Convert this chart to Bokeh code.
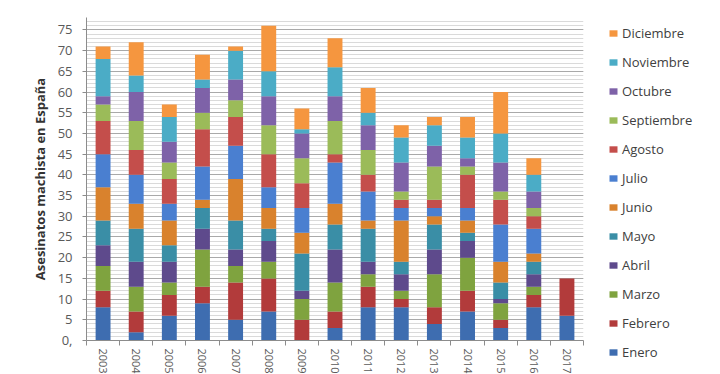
from bokeh.plotting import figure
from bokeh.models import (ColumnDataSource, FixedTicker, SingleIntervalTicker,
                          Legend, LegendItem, Range1d)
from bokeh.embed import file_html
from bokeh.resources import INLINE

years = ["2003", "2004", "2005", "2006", "2007", "2008", "2009", "2010",
         "2011", "2012", "2013", "2014", "2015", "2016", "2017"]
months = ["Enero", "Febrero", "Marzo", "Abril", "Mayo", "Junio", "Julio",
          "Agosto", "Septiembre", "Octubre", "Noviembre", "Diciembre"]

enero      = [8, 2, 6, 9, 5, 7, 0, 3, 8, 8, 4, 7, 3, 8, 6]
febrero    = [4, 5, 5, 4, 9, 8, 5, 4, 5, 2, 4, 5, 2, 3, 9]
marzo      = [6, 6, 3, 9, 4, 4, 5, 7, 3, 2, 8, 8, 4, 2, 0]
abril      = [5, 6, 5, 5, 4, 5, 2, 8, 3, 4, 6, 4, 1, 3, 0]
mayo       = [6, 8, 4, 5, 7, 3, 9, 6, 8, 3, 6, 2, 4, 3, 0]
junio      = [8, 6, 6, 2, 10, 5, 5, 5, 2, 10, 2, 3, 5, 2, 0]
julio      = [8, 7, 4, 8, 8, 5, 6, 10, 7, 3, 2, 3, 9, 6, 0]
agosto     = [8, 6, 6, 9, 7, 8, 6, 2, 4, 2, 2, 8, 6, 3, 0]
septiembre = [4, 7, 4, 4, 4, 7, 6, 8, 6, 2, 8, 2, 2, 2, 0]
octubre    = [2, 7, 5, 6, 5, 7, 6, 6, 6, 7, 5, 2, 7, 4, 0]
noviembre  = [9, 4, 6, 2, 7, 6, 1, 7, 3, 6, 5, 5, 7, 4, 0]
diciembre  = [3, 8, 3, 6, 1, 11, 5, 7, 6, 3, 2, 5, 10, 4, 0]

colors = ["#3E6DB0", "#B23B3B", "#7FA33F", "#5E4A8C", "#3A8EA6", "#D9822D",
          "#4A7FD0", "#C44E4B", "#9BBB59", "#7E62A8", "#4BACC6", "#F5963F"]

series = [enero, febrero, marzo, abril, mayo, junio, julio, agosto,
          septiembre, octubre, noviembre, diciembre]

xpos = list(range(1, len(years) + 1))
data = {"x": xpos}
for m, s in zip(months, series):
    data[m] = s
source = ColumnDataSource(data)

FONT = "Open Sans"
TXT = "#595959"

p = figure(frame_width=497, frame_height=323, min_border_top=17,
           min_border_left=86, min_border_right=129, min_border_bottom=0,
           x_range=Range1d(0.5, len(years) + 0.5), y_range=Range1d(0, 78),
           output_backend="svg", toolbar_location=None, tools="")

renderers = p.vbar_stack(months, x="x", width=0.45, color=colors,
                         line_color=None, source=source)

# axes
p.xaxis.ticker = FixedTicker(ticks=xpos,
                             minor_ticks=[v - 0.5 for v in xpos] + [xpos[-1] + 0.5])
p.xaxis.major_label_overrides = {x: y for x, y in zip(xpos, years)}
p.xaxis.major_label_orientation = "vertical"
p.xaxis.major_tick_out = 0
p.xaxis.major_tick_in = 0
p.xaxis.minor_tick_out = 5
p.xaxis.minor_tick_in = 0
p.xaxis.major_label_standoff = 3
p.xaxis.major_label_text_font = FONT
p.xaxis.major_label_text_font_size = "11px"
p.xaxis.major_label_text_color = TXT
p.xaxis.axis_line_color = "#8c8c8c"
p.xaxis.minor_tick_line_color = "#8c8c8c"

p.yaxis.ticker = SingleIntervalTicker(interval=5, num_minor_ticks=5)
p.yaxis.major_label_overrides = {0: "0,"}
p.yaxis.major_tick_out = 4
p.yaxis.major_tick_in = 0
p.yaxis.minor_tick_out = 0
p.yaxis.minor_tick_in = 0
p.yaxis.major_label_standoff = 10
p.yaxis.major_label_text_font = FONT
p.yaxis.major_label_text_font_size = "13px"
p.yaxis.major_label_text_color = TXT
p.yaxis.axis_line_color = "#8c8c8c"
p.yaxis.major_tick_line_color = "#8c8c8c"
p.yaxis.axis_label = "Asesinatos machista en España"
p.yaxis.axis_label_text_font = FONT
p.yaxis.axis_label_text_font_style = "bold"
p.yaxis.axis_label_text_font_size = "13px"
p.yaxis.axis_label_text_color = "#333333"
p.yaxis.axis_label_standoff = 6

p.xgrid.grid_line_color = None
p.ygrid.grid_line_color = "#a9a9a9"
p.ygrid.minor_grid_line_color = "#dadada"
p.outline_line_color = None

items = [LegendItem(label=m, renderers=[r]) for m, r in zip(months, renderers)]
legend = Legend(items=items[::-1], location=(25, -21))
legend.border_line_color = None
legend.background_fill_alpha = 0
legend.margin = 0
legend.padding = 0
legend.glyph_width = 10
legend.glyph_height = 8
legend.label_height = 14
legend.spacing = 11
legend.label_standoff = 4
legend.label_text_font = FONT
legend.label_text_font_size = "13px"
legend.label_text_color = "#404040"
p.add_layout(legend, "right")

open("out.html", "w").write(file_html(p, INLINE))
